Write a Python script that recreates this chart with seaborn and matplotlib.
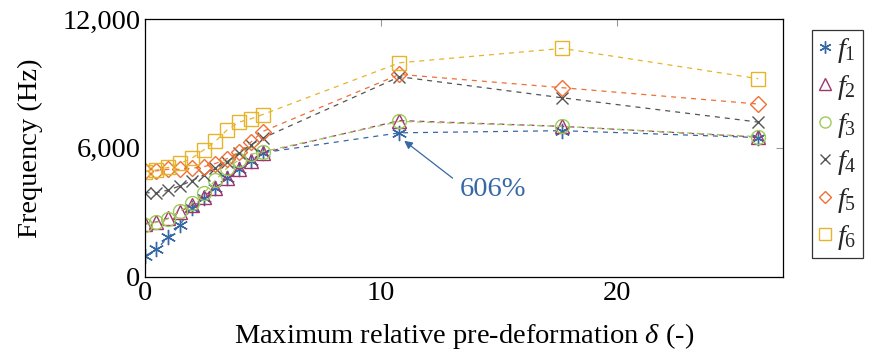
import numpy as np
import pandas as pd
import matplotlib
matplotlib.use("Agg")
import matplotlib.pyplot as plt
from matplotlib.ticker import StrMethodFormatter, FixedLocator
from matplotlib.lines import Line2D
import seaborn as sns

# Maximum relative pre-deformation (x) and natural frequencies (Hz)
delta = [0.0, 0.5, 1.0, 1.5, 2.0, 2.5, 3.0, 3.5, 4.0, 4.5, 5.0, 10.8, 17.7, 26.0]
f1 = [960, 1280, 1830, 2410, 3220, 3670, 4130, 4580, 5000, 5400, 5770, 6700, 6800, 6480]
f2 = [2470, 2550, 2720, 3030, 3330, 3730, 4150, 4580, 5000, 5410, 5770, 7270, 7000, 6500]
f3 = [2430, 2530, 2700, 3040, 3410, 3880, 4500, 5070, 5440, 5700, 5820, 7230, 7000, 6520]
f4 = [3910, 3910, 4030, 4230, 4470, 4730, 5050, 5360, 5750, 6140, 6450, 9310, 8330, 7200]
f5 = [4900, 4930, 5000, 5000, 5050, 5120, 5270, 5500, 5800, 6260, 6760, 9420, 8800, 8040]
f6 = [4890, 4970, 5090, 5280, 5510, 5900, 6300, 6840, 7200, 7350, 7550, 9960, 10630, 9220]

labels = ["$f_1$", "$f_2$", "$f_3$", "$f_4$", "$f_5$", "$f_6$"]
x_ticks = [0, 10, 20]
y_ticks = [0, 6000, 12000]
note_text = "606%"

colors = ["#3568a4", "#a3336c", "#9ccc58", "#555555", "#ef6f35", "#e5b42a"]
markers = [(6, 2, 0), "^", "o", "x", "D", "s"]
msizes = [11, 10, 10, 9, 8, 10]

sns.set_theme(style="white")
plt.rcParams["font.family"] = ["Liberation Serif", "DejaVu Serif"]
plt.rcParams["mathtext.fontset"] = "custom"
plt.rcParams["mathtext.rm"] = "Liberation Serif"
plt.rcParams["mathtext.it"] = "Liberation Serif:italic"

FS = 20.5

df = pd.DataFrame({"delta": delta, "f1": f1, "f2": f2, "f3": f3,
                   "f4": f4, "f5": f5, "f6": f6})

fig = plt.figure(figsize=(8.71, 3.58), dpi=100)
ax = fig.add_axes([0.166, 0.227, 0.733, 0.72])

handles = []
for i, col in enumerate(["f1", "f2", "f3", "f4", "f5", "f6"]):
    sns.lineplot(data=df, x="delta", y=col, ax=ax, color=colors[i],
                 linestyle=(0, (4, 4)), linewidth=0.9,
                 marker=markers[i], markersize=msizes[i],
                 markerfacecolor="none", markeredgecolor=colors[i],
                 markeredgewidth=1.0, label=None)
    handles.append(Line2D([], [], linestyle="none", marker=markers[i],
                          markersize=msizes[i] * 0.8, markerfacecolor="none",
                          markeredgecolor=colors[i], markeredgewidth=1.0,
                          color=colors[i]))

ax.set_xlim(0, 27.05)
ax.set_ylim(0, 12000)
ax.xaxis.set_major_locator(FixedLocator(x_ticks))
ax.yaxis.set_major_locator(FixedLocator(y_ticks))
ax.yaxis.set_major_formatter(StrMethodFormatter("{x:,.0f}"))
ax.tick_params(axis="both", which="major", direction="in", length=5,
               width=0.8, color="#999999", labelsize=FS, labelcolor="black",
               top=True, right=True, pad=3)
for s in ax.spines.values():
    s.set_color("black")
    s.set_linewidth(0.9)

ax.set_xlabel(r"Maximum relative pre-deformation $\delta$ (-)", fontsize=FS,
              color="black", labelpad=11)
ax.set_ylabel("Frequency (Hz)", fontsize=FS, color="black", labelpad=14)

ax.annotate("", xy=(11.0, 6330), xytext=(13.05, 4590),
            arrowprops=dict(arrowstyle="-|>", color=colors[0], lw=0.9,
                            mutation_scale=12, shrinkA=0, shrinkB=0))
ax.text(13.35, 4040, note_text, color=colors[0], fontsize=FS,
        ha="left", va="center")

leg = ax.legend(handles, labels, loc="upper left", bbox_to_anchor=(1.045, 0.957),
                frameon=True, fancybox=False, fontsize=FS, handlelength=0.5,
                handletextpad=0.2, borderpad=0.2, labelspacing=0.3,
                borderaxespad=0)
leg.get_frame().set_edgecolor("black")
leg.get_frame().set_linewidth(0.9)

fig.savefig("out.png", dpi=100)
